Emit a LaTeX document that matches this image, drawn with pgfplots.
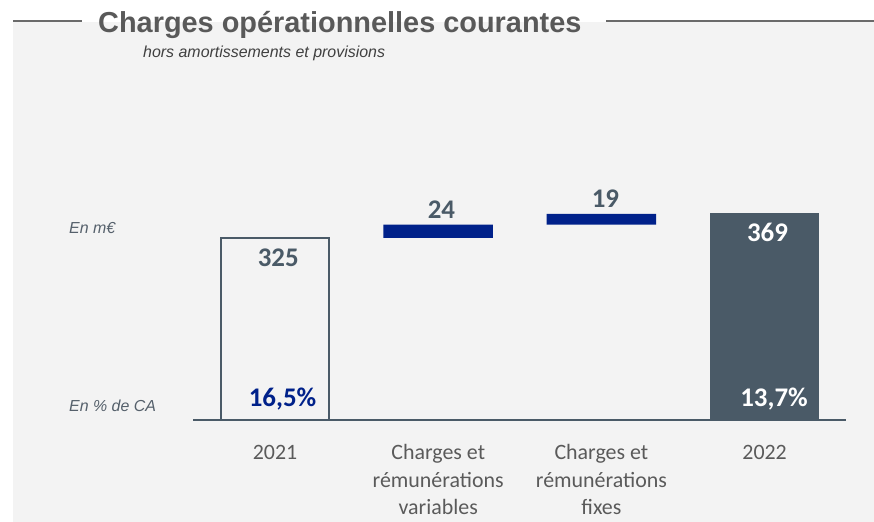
\documentclass[border=0pt]{standalone}
\usepackage{fontspec}
\setmainfont{Carlito}
\newfontfamily\arial{Liberation Sans}
\usepackage{pgfplots}
\pgfplotsset{compat=1.18}
\definecolor{slate}{HTML}{4A5A67}
\definecolor{navy}{HTML}{00218A}
\definecolor{bg}{HTML}{F3F3F3}
\definecolor{titlegray}{HTML}{595959}
\definecolor{tickgray}{HTML}{5A5A5A}
\definecolor{sidegray}{HTML}{55606B}
\definecolor{subgray}{HTML}{404040}
\definecolor{rulegray}{HTML}{6A6A6A}
\pgfplotsset{geom/.style={
  scale only axis, width=652.8bp, height=224bp,
  xmin=-0.5, xmax=3.5, ymin=0, ymax=400,
  at={(193.4bp,102bp)}, anchor=south west, clip=false}}
\begin{document}
\begin{tikzpicture}[x=1bp,y=1bp]
\fill[bg] (13,0) rectangle (874,500);
\draw[rulegray, line width=2bp] (13,500.5) -- (82,500.5);
\draw[rulegray, line width=2bp] (606,500.5) -- (874,500.5);
\node[anchor=base west, inner sep=0, text=titlegray, font=\arial\bfseries\fontsize{29}{29}\selectfont] at (98,489.7) {Charges opérationnelles courantes};
\node[anchor=base west, inner sep=0, text=subgray, font=\arial\itshape\fontsize{16}{16}\selectfont] at (143,464) {hors amortissements et provisions};
\node[anchor=base west, inner sep=0, text=sidegray, font=\arial\itshape\fontsize{16}{16}\selectfont] at (69,288) {En m€};
\node[anchor=base west, inner sep=0, text=sidegray, font=\arial\itshape\fontsize{16}{16}\selectfont] at (69,110.3) {En \% de CA};

% bars starting at zero
\begin{axis}[geom, ybar, bar width=0.671, axis on top,
  axis x line*=bottom, hide y axis,
  axis line style={draw=slate, line width=1.8bp},
  xtick={0,1,2,3}, major tick length=0,
  xticklabels={\strut 2021,{\strut Charges et\\rémunérations\\variables},{\strut Charges et\\rémunérations\\fixes},\strut 2022},
  xticklabel style={align=center, text=tickgray, font=\fontsize{22}{28}\selectfont, anchor=north, yshift=-19.4bp, inner sep=0pt},
  ]
\addplot[bar shift=0pt, bar width=0.659, draw=slate, line width=2bp, fill=none] coordinates {(0,325)};
\addplot[bar shift=0pt, draw=none, fill=slate] coordinates {(3,369)};
\node[anchor=base, inner sep=0, text=slate, font=\bfseries\fontsize{27}{27}\selectfont] at (axis cs:0.02,274) {325};
\node[anchor=base, inner sep=0, text=navy, font=\bfseries\fontsize{27}{27}\selectfont] at (axis cs:0.046,24.1) {16,5\%};
\node[anchor=base, inner sep=0, text=white, font=\bfseries\fontsize{27}{27}\selectfont] at (axis cs:3.018,318.75) {369};
\node[anchor=base, inner sep=0, text=white, font=\bfseries\fontsize{27}{27}\selectfont] at (axis cs:3.058,24.1) {13,7\%};
\node[anchor=base, inner sep=0, text=slate, font=\bfseries\fontsize{27}{27}\selectfont] at (axis cs:1.02,360.7) {24};
\node[anchor=base, inner sep=0, text=slate, font=\bfseries\fontsize{27}{27}\selectfont] at (axis cs:2.025,378.6) {19};
\end{axis}

% floating bars
\begin{axis}[geom, ybar stacked, bar width=0.671, hide axis]
\addplot[draw=none, fill=none] coordinates {(1,325) (2,349)};
\addplot[draw=none, fill=navy] coordinates {(1,24) (2,19)};
\end{axis}

\pgfresetboundingbox
\useasboundingbox (0,0) rectangle (874,522);
\end{tikzpicture}
\end{document}
